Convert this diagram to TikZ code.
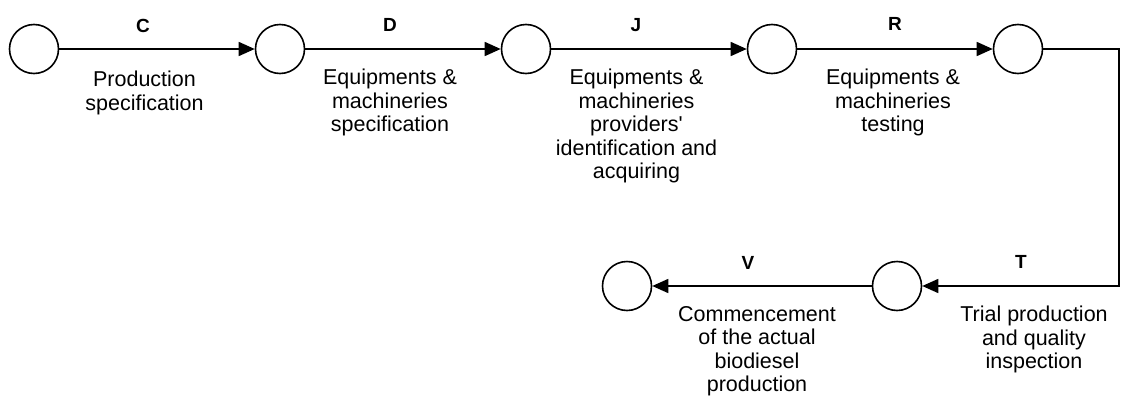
\documentclass[tikz,border=0pt]{standalone}
\usepackage{fontspec}
\setmainfont{Liberation Sans}[Ligatures=TeXOff]
\usetikzlibrary{arrows.meta}
\begin{document}
\begin{tikzpicture}[x=1pt,y=-1pt,
  ev/.style={circle,draw,line width=1.6pt,minimum size=49pt,inner sep=0pt},
  arr/.style={line width=1.6pt,-{Triangle[length=16pt,width=14pt]}},
  act/.style={font=\fontsize{19}{22}\selectfont\bfseries,inner sep=0pt},
  desc/.style={font=\fontsize{21.5}{23.5}\selectfont,align=center,inner sep=0pt,anchor=north}]
\useasboundingbox (0,0) rectangle (1121,399);
\node[ev] (n1) at (34,49) {};
\node[ev] (n2) at (280,49) {};
\node[ev] (n3) at (526,49) {};
\node[ev] (n4) at (772,49) {};
\node[ev] (n5) at (1018,49) {};
\node[ev] (n6) at (897,286) {};
\node[ev] (n7) at (627,286) {};
\coordinate (corner) at (1119,49);
\draw[arr] (n1) -- (n2);
\draw[arr] (n2) -- (n3);
\draw[arr] (n3) -- (n4);
\draw[arr] (n4) -- (n5);
\draw[arr] (n5) -- (corner) |- (n6);
\draw[arr] (n6) -- (n7);
\node[act] (lc) at (143,26) {C};
\node[act] (ld) at (390,25) {D};
\node[act] (lj) at (636,25) {J};
\node[act] (lr) at (895,24) {R};
\node[act] (lt) at (1021,262) {T};
\node[act] (lv) at (748,263) {V};
\node[desc] (tc) at (144.5,71) {Production\\specification};
\node[desc] (td) at (390,69) {Equipments \&\\machineries\\specification};
\node[desc] (tj) at (636.5,69) {Equipments \&\\machineries\\providers'\\identification and\\acquiring};
\node[desc] (tr) at (893,69) {Equipments \&\\machineries\\testing};
\node[desc] (tt) at (1034,306) {Trial production\\and quality\\inspection};
\node[desc] (tv) at (757,306) {Commencement\\of the actual\\biodiesel\\production};
\end{tikzpicture}
\end{document}
